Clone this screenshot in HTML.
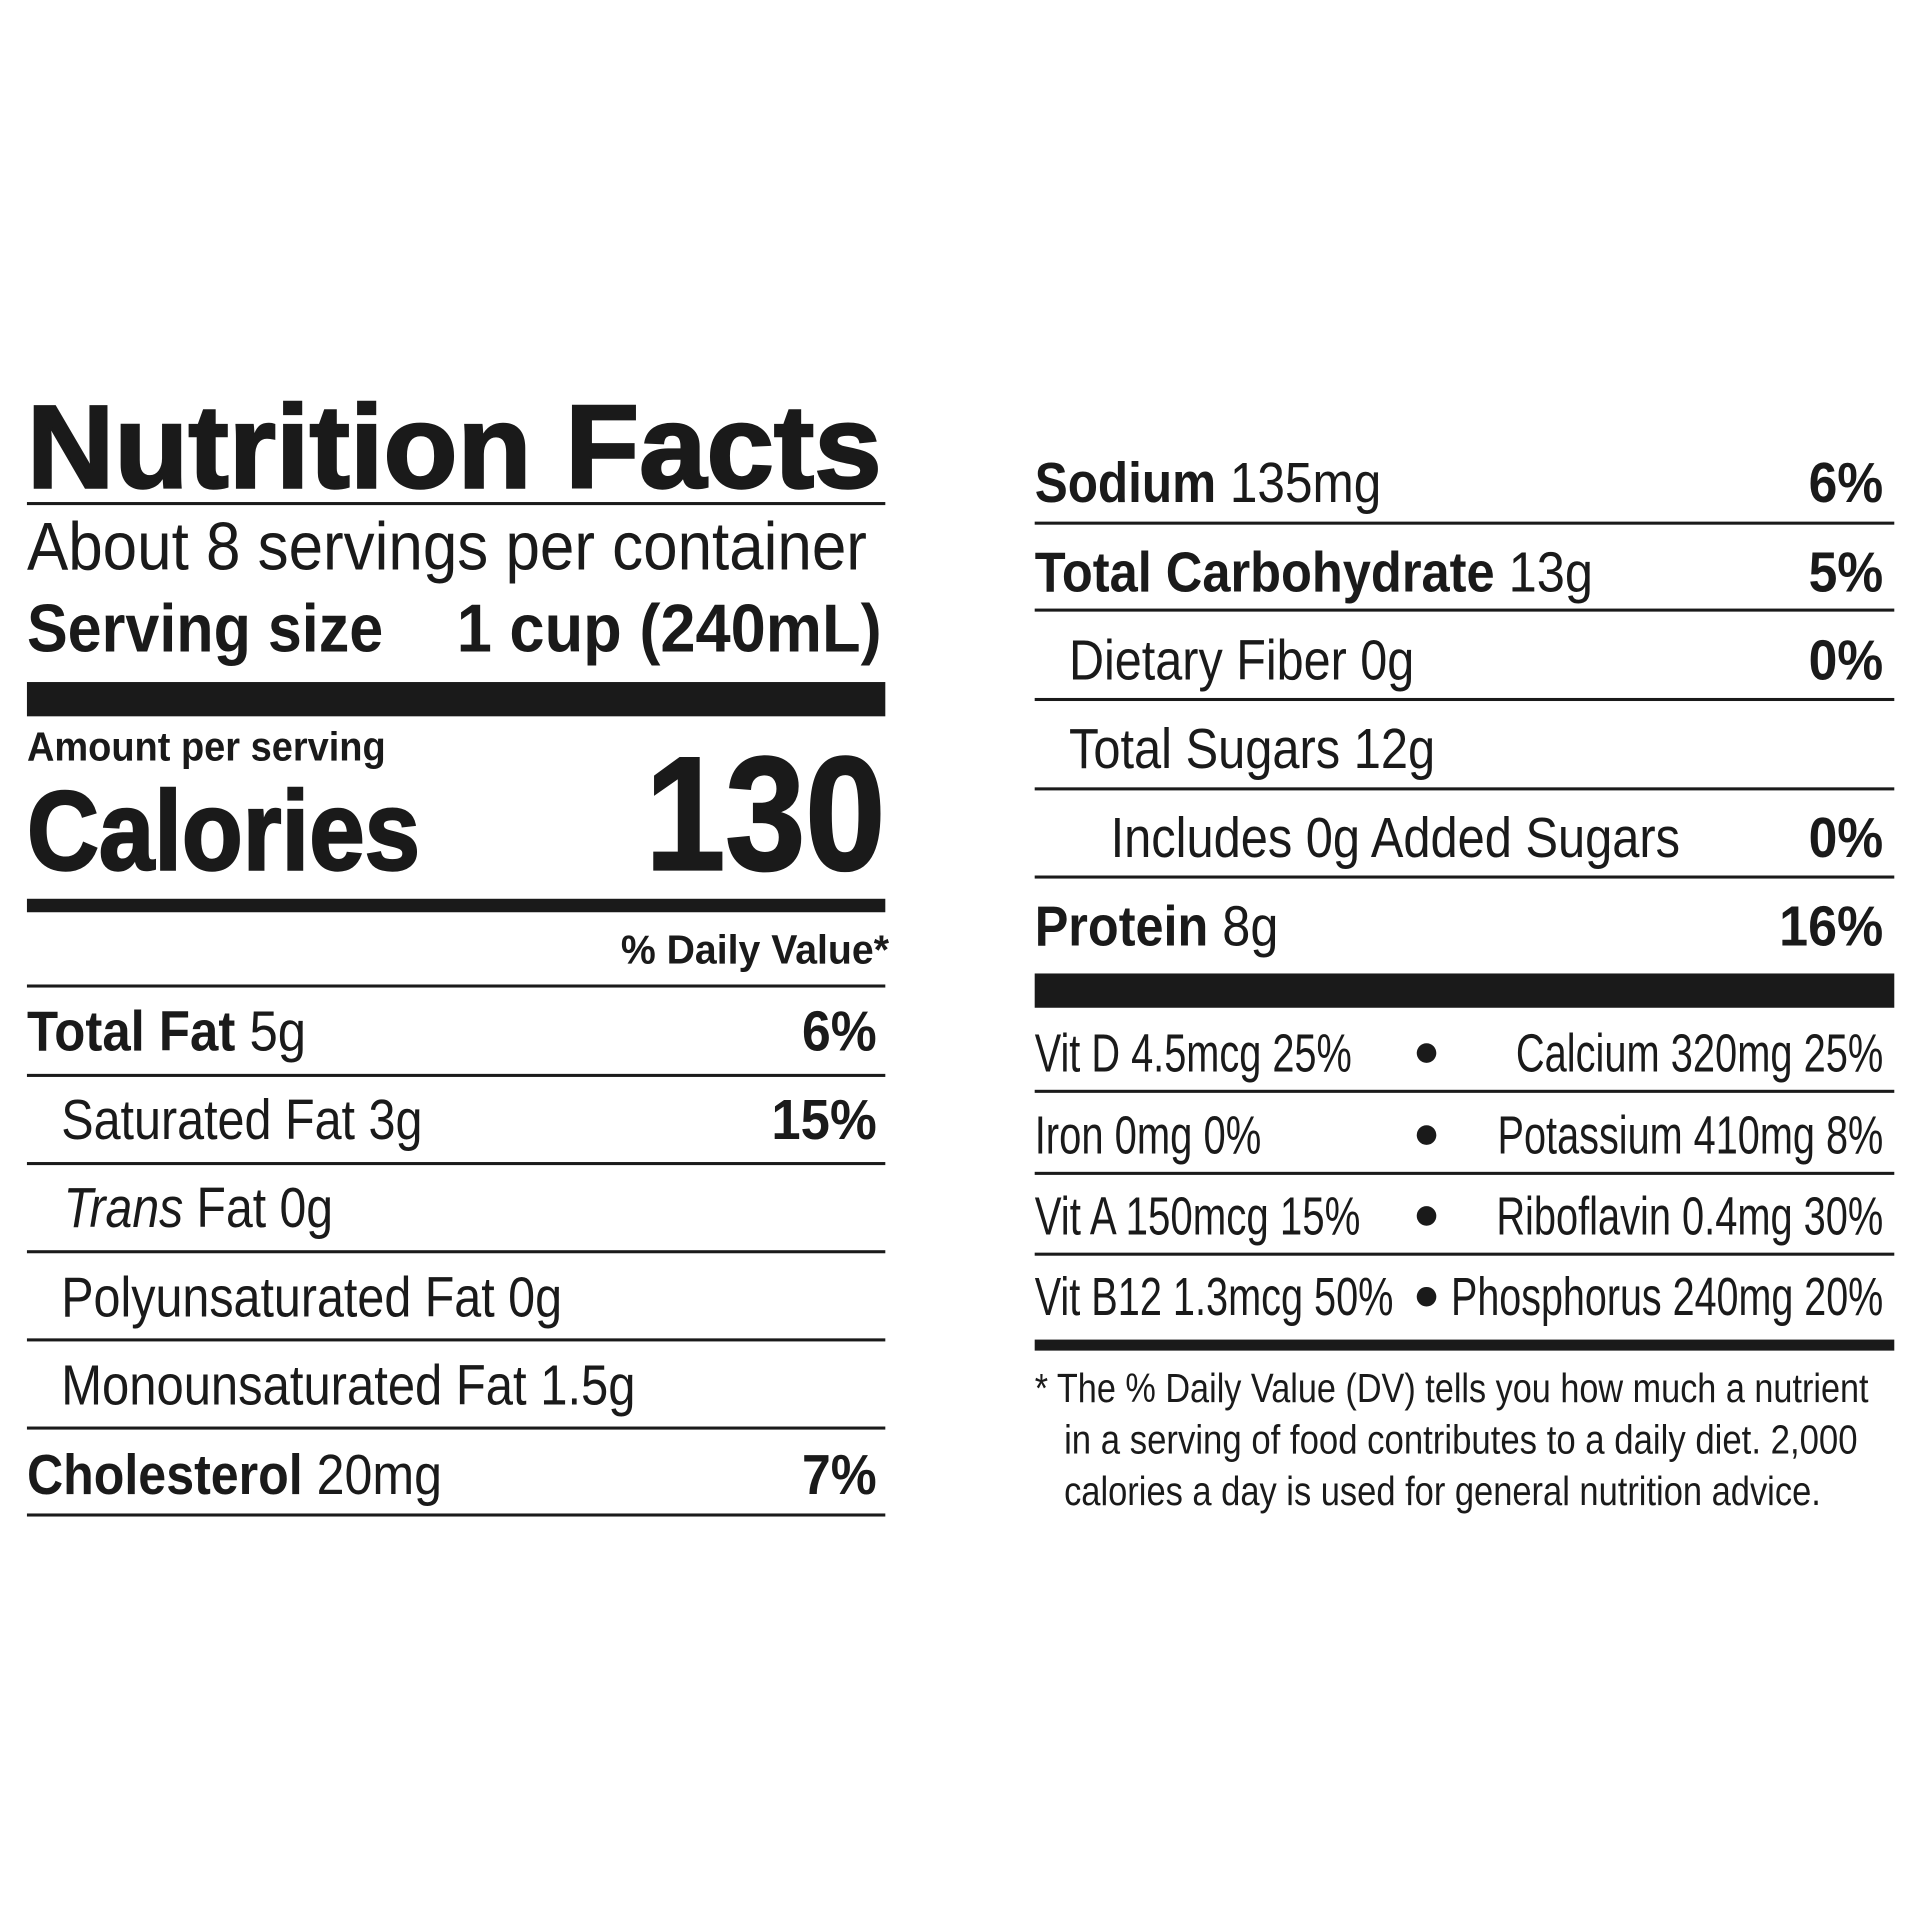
<!DOCTYPE html>
<html><head><meta charset="utf-8">
<style>
html,body{margin:0;padding:0;background:#fff;}
svg{display:block;}
text{font-family:"Liberation Sans",sans-serif;fill:#1a1a1a;}
.b{font-weight:700;}
</style></head>
<body>
<svg width="1920" height="1920" viewBox="0 0 1568 1568" xmlns="http://www.w3.org/2000/svg">
<rect width="1568" height="1568" fill="#fff"/>
<g fill="#1a1a1a">
<!-- left column -->
<text x="22" y="398" font-size="96" class="b" stroke="#1a1a1a" stroke-width="2" textLength="698" lengthAdjust="spacingAndGlyphs">Nutrition Facts</text>
<rect x="22" y="410" width="701" height="2.5"/>
<text x="22" y="465" font-size="55" textLength="686" lengthAdjust="spacingAndGlyphs">About 8 servings per container</text>
<text x="22" y="532" font-size="55" class="b" textLength="291" lengthAdjust="spacingAndGlyphs">Serving size</text>
<text x="373" y="532" font-size="55" class="b" textLength="347" lengthAdjust="spacingAndGlyphs">1 cup (240mL)</text>
<rect x="22" y="557" width="701" height="28"/>
<text x="22" y="621" font-size="33" class="b" textLength="293" lengthAdjust="spacingAndGlyphs">Amount per serving</text>
<text x="22" y="710" font-size="92" class="b" stroke="#1a1a1a" stroke-width="2" textLength="321" lengthAdjust="spacingAndGlyphs">Calories</text>
<text x="527" y="710" font-size="132" class="b" stroke="#1a1a1a" stroke-width="2" textLength="196" lengthAdjust="spacingAndGlyphs">130</text>
<rect x="22" y="734" width="701" height="11"/>
<text x="507" y="787" font-size="33" class="b" textLength="219" lengthAdjust="spacingAndGlyphs">% Daily Value*</text>
<rect x="22" y="804" width="701" height="2.5"/>
<text x="22" y="858" font-size="46" textLength="228" lengthAdjust="spacingAndGlyphs"><tspan class="b">Total Fat</tspan> 5g</text>
<text x="655" y="858" font-size="46" class="b" textLength="61" lengthAdjust="spacingAndGlyphs">6%</text>
<rect x="22" y="877" width="701" height="2.5"/>
<text x="50" y="930" font-size="46" textLength="295" lengthAdjust="spacingAndGlyphs">Saturated Fat 3g</text>
<text x="630" y="930" font-size="46" class="b" textLength="86" lengthAdjust="spacingAndGlyphs">15%</text>
<rect x="22" y="949" width="701" height="2.5"/>
<text x="52" y="1002" font-size="46" textLength="220" lengthAdjust="spacingAndGlyphs"><tspan font-style="italic">Trans</tspan> Fat 0g</text>
<rect x="22" y="1021" width="701" height="2.5"/>
<text x="50" y="1075" font-size="46" textLength="409" lengthAdjust="spacingAndGlyphs">Polyunsaturated Fat 0g</text>
<rect x="22" y="1093" width="701" height="2.5"/>
<text x="50" y="1147" font-size="46" textLength="469" lengthAdjust="spacingAndGlyphs">Monounsaturated Fat 1.5g</text>
<rect x="22" y="1165" width="701" height="2.5"/>
<text x="22" y="1220" font-size="46" textLength="339" lengthAdjust="spacingAndGlyphs"><tspan class="b">Cholesterol</tspan> 20mg</text>
<text x="655" y="1220" font-size="46" class="b" textLength="61" lengthAdjust="spacingAndGlyphs">7%</text>
<rect x="22" y="1236" width="701" height="2.5"/>

<!-- right column -->
<text x="845" y="410" font-size="46" textLength="283" lengthAdjust="spacingAndGlyphs"><tspan class="b">Sodium</tspan> 135mg</text>
<text x="1477" y="410" font-size="46" class="b" textLength="61" lengthAdjust="spacingAndGlyphs">6%</text>
<rect x="845" y="426" width="702" height="2.5"/>
<text x="845" y="483" font-size="46" textLength="456" lengthAdjust="spacingAndGlyphs"><tspan class="b">Total Carbohydrate</tspan> 13g</text>
<text x="1477" y="483" font-size="46" class="b" textLength="61" lengthAdjust="spacingAndGlyphs">5%</text>
<rect x="845" y="497" width="702" height="2.5"/>
<text x="873" y="555" font-size="46" textLength="282" lengthAdjust="spacingAndGlyphs">Dietary Fiber 0g</text>
<text x="1477" y="555" font-size="46" class="b" textLength="61" lengthAdjust="spacingAndGlyphs">0%</text>
<rect x="845" y="570" width="702" height="2.5"/>
<text x="873" y="627" font-size="46" textLength="299" lengthAdjust="spacingAndGlyphs">Total Sugars 12g</text>
<rect x="845" y="643" width="702" height="2.5"/>
<text x="907" y="700" font-size="46" textLength="465" lengthAdjust="spacingAndGlyphs">Includes 0g Added Sugars</text>
<text x="1477" y="700" font-size="46" class="b" textLength="61" lengthAdjust="spacingAndGlyphs">0%</text>
<rect x="845" y="715" width="702" height="2.5"/>
<text x="845" y="772" font-size="46" textLength="199" lengthAdjust="spacingAndGlyphs"><tspan class="b">Protein</tspan> 8g</text>
<text x="1453" y="772" font-size="46" class="b" textLength="85" lengthAdjust="spacingAndGlyphs">16%</text>
<rect x="845" y="795" width="702" height="28"/>

<text x="845" y="875" font-size="44" textLength="259" lengthAdjust="spacingAndGlyphs">Vit D 4.5mcg 25%</text>
<circle cx="1165" cy="860" r="8"/>
<text x="1238" y="875" font-size="44" textLength="300" lengthAdjust="spacingAndGlyphs">Calcium 320mg 25%</text>
<rect x="845" y="890" width="702" height="2.5"/>
<text x="845" y="942" font-size="44" textLength="185" lengthAdjust="spacingAndGlyphs">Iron 0mg 0%</text>
<circle cx="1165" cy="927" r="8"/>
<text x="1223" y="942" font-size="44" textLength="315" lengthAdjust="spacingAndGlyphs">Potassium 410mg 8%</text>
<rect x="845" y="957" width="702" height="2.5"/>
<text x="845" y="1008" font-size="44" textLength="266" lengthAdjust="spacingAndGlyphs">Vit A 150mcg 15%</text>
<circle cx="1165" cy="993" r="8"/>
<text x="1222" y="1008" font-size="44" textLength="316" lengthAdjust="spacingAndGlyphs">Riboflavin 0.4mg 30%</text>
<rect x="845" y="1023" width="702" height="2.5"/>
<text x="845" y="1074" font-size="44" textLength="293" lengthAdjust="spacingAndGlyphs">Vit B12 1.3mcg 50%</text>
<circle cx="1165" cy="1059" r="8"/>
<text x="1185" y="1074" font-size="44" textLength="353" lengthAdjust="spacingAndGlyphs">Phosphorus 240mg 20%</text>
<rect x="845" y="1094" width="702" height="9"/>

<text x="845" y="1145" font-size="33" textLength="681" lengthAdjust="spacingAndGlyphs">* The % Daily Value (DV) tells you how much a nutrient</text>
<text x="869" y="1187" font-size="33" textLength="648" lengthAdjust="spacingAndGlyphs">in a serving of food contributes to a daily diet. 2,000</text>
<text x="869" y="1229" font-size="33" textLength="618" lengthAdjust="spacingAndGlyphs">calories a day is used for general nutrition advice.</text>
</g>
</svg>
</body></html>
